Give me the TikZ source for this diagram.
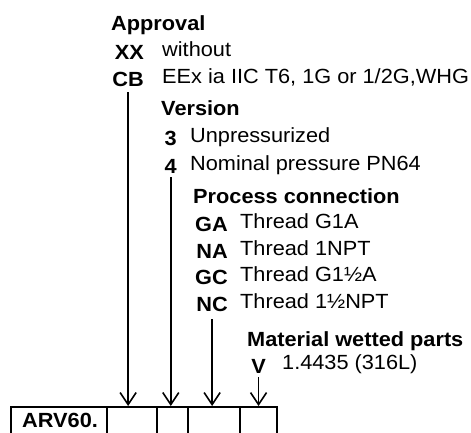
\documentclass[tikz,border=0pt]{standalone}
\usepackage{fontspec}
\setmainfont{Liberation Sans}[FakeStretch=1.06]
\usetikzlibrary{arrows.meta}
\begin{document}
\begin{tikzpicture}[x=1pt,y=-1pt,
  txt/.style={inner sep=0pt, font=\fontsize{20.5}{23}\selectfont},
  hdr/.style={txt, anchor=base west, font=\fontsize{20.5}{23}\selectfont\bfseries},
  code/.style={txt, anchor=base east, font=\fontsize{20.5}{23}\selectfont\bfseries},
  desc/.style={txt, anchor=base west},
  cell/.style={draw, line width=2.4pt, anchor=north west, minimum height=44pt, inner sep=0pt},
  pointer/.style={line width=1.6pt, -{Straight Barb[length=12pt,width=16pt]}}]
\clip (0,0) rectangle (471,432);
% Approval
\node[hdr] (hA) at (111,30) {Approval};
\node[code] (cXX) at (144,59) {XX};
\node[desc] (dXX) at (162,56) {without};
\node[code] (cCB) at (144,86) {CB};
\node[desc] (dCB) at (162,83) {EEx ia IIC T6, 1G or 1/2G,WHG};
% Version
\node[hdr] (hV) at (161,115) {Version};
\node[code] (c3) at (177,145) {3};
\node[desc] (d3) at (190,142) {Unpressurized};
\node[code] (c4) at (177,173) {4};
\node[desc] (d4) at (190,170) {Nominal pressure PN64};
% Process connection
\node[hdr] (hP) at (193,203) {Process connection};
\node[code] (cGA) at (228,231) {GA};
\node[desc] (dGA) at (240,228) {Thread G1A};
\node[code] (cNA) at (228,258) {NA};
\node[desc] (dNA) at (240,255) {Thread 1NPT};
\node[code] (cGC) at (228,284) {GC};
\node[desc] (dGC) at (240,281) {Thread G1½A};
\node[code] (cNC) at (228,311) {NC};
\node[desc] (dNC) at (240,308) {Thread 1½NPT};
% Material
\node[hdr] (hM) at (247,346) {Material wetted parts};
\node[code] (cV) at (266,373) {V};
\node[desc] (dV) at (282,369) {1.4435 (316L)};
% Order code box
\node[cell, minimum width=96pt] (b0) at (10,406) {};
\node[cell, minimum width=50pt] (b1) at (106,406) {};
\node[cell, minimum width=31pt] (b2) at (156,406) {};
\node[cell, minimum width=52pt] (b3) at (187,406) {};
\node[cell, minimum width=37pt] (b4) at (239,406) {};
\node[hdr] (arv) at (22,427.5) {ARV60.};
% Pointers
\draw[pointer] ([yshift=-6pt]cCB.south) -- (cCB.south |- b1.north);
\draw[pointer] ([yshift=-4pt]c4.south) -- (c4.south |- b2.north);
\draw[pointer] ([yshift=-8pt]cNC.south) -- (cNC.south |- b3.north);
\draw[pointer] ([yshift=-4pt]cV.south) -- (cV.south |- b4.north);
\end{tikzpicture}
\end{document}
